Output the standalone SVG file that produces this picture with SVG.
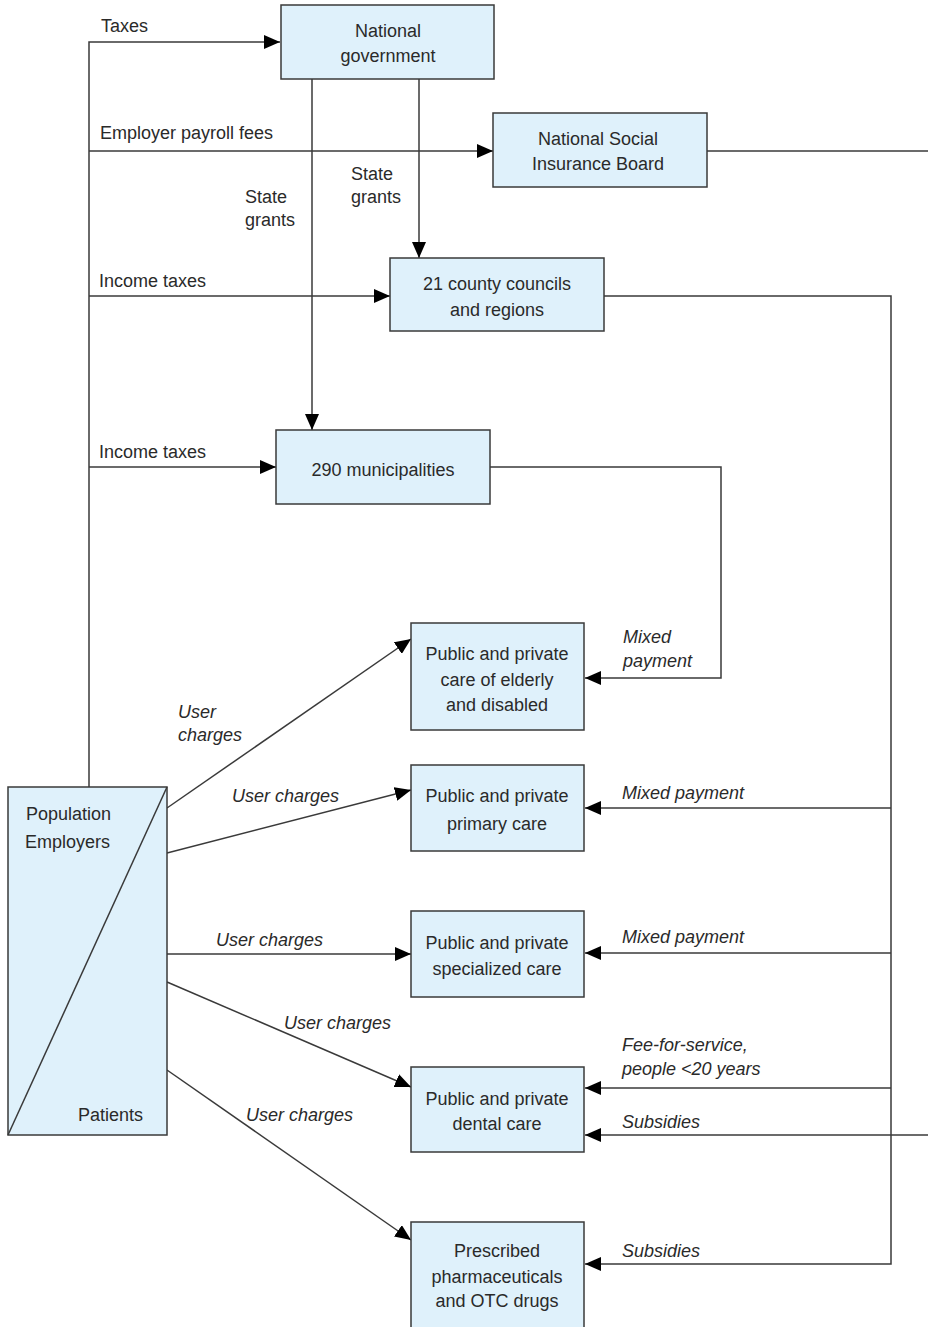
<svg xmlns="http://www.w3.org/2000/svg" width="928" height="1327" viewBox="0 0 928 1327">
<style>
.box{fill:#dff1fb;stroke:#3a3a3a;stroke-width:1.5}
.ln{fill:none;stroke:#3a3a3a;stroke-width:1.5}
.ar{marker-end:url(#ah)}
text{font-family:"Liberation Sans",Arial,sans-serif;font-size:18px;fill:#2a2a2a}
.c{text-anchor:middle}
.i{font-style:italic}
</style>
<defs>
<marker id="ah" markerUnits="userSpaceOnUse" markerWidth="16" markerHeight="14" refX="16" refY="7" orient="auto">
<path d="M0,0 L16,7 L0,14 Z" fill="#000"/>
</marker>
</defs>
<rect width="928" height="1327" fill="#fff"/>
<g id="connectors">
<path class="ln ar" d="M89,787 V42 H280"/>
<path class="ln ar" d="M89,151 H493"/>
<path class="ln ar" d="M89,296 H390"/>
<path class="ln ar" d="M89,467 H276"/>
<path class="ln ar" d="M312,79 V430"/>
<path class="ln ar" d="M419,79 V258"/>
<path class="ln" d="M707,151 H928"/>
<path class="ln ar" d="M604,296 H891 V1264 H585"/>
<path class="ln ar" d="M891,808 H585"/>
<path class="ln ar" d="M891,953 H585"/>
<path class="ln ar" d="M891,1088 H585"/>
<path class="ln ar" d="M928,1135 H585"/>
<path class="ln ar" d="M490,467 H721 V678 H585"/>
<path class="ln ar" d="M167,808 L411,639"/>
<path class="ln ar" d="M167,853 L411,790"/>
<path class="ln ar" d="M167,954 H411"/>
<path class="ln ar" d="M167,982 L411,1087"/>
<path class="ln ar" d="M167,1070 L411,1240"/>
<text x="101" y="32">Taxes</text>
<text x="100" y="139">Employer payroll fees</text>
<text x="245" y="203">State</text>
<text x="245" y="226">grants</text>
<text x="351" y="180">State</text>
<text x="351" y="203">grants</text>
<text x="99" y="287">Income taxes</text>
<text x="99" y="458">Income taxes</text>
<text class="i" x="178" y="718">User</text>
<text class="i" x="178" y="741">charges</text>
<text class="i" x="232" y="802">User charges</text>
<text class="i" x="216" y="946">User charges</text>
<text class="i" x="284" y="1029">User charges</text>
<text class="i" x="246" y="1121">User charges</text>
<text class="i" x="623" y="643">Mixed</text>
<text class="i" x="623" y="667">payment</text>
<text class="i" x="622" y="799">Mixed payment</text>
<text class="i" x="622" y="943">Mixed payment</text>
<text class="i" x="622" y="1051">Fee-for-service,</text>
<text class="i" x="622" y="1075">people &lt;20 years</text>
<text class="i" x="622" y="1128">Subsidies</text>
<text class="i" x="622" y="1257">Subsidies</text>
</g>
<g id="national-government">
<rect class="box" x="281" y="5" width="213" height="74"/>
<text class="c" x="388" y="37">National</text>
<text class="c" x="388" y="62">government</text>
</g>
<g id="nsib">
<rect class="box" x="493" y="113" width="214" height="74"/>
<text class="c" x="598" y="145">National Social</text>
<text class="c" x="598" y="170">Insurance Board</text>
</g>
<g id="county-councils">
<rect class="box" x="390" y="258" width="214" height="73"/>
<text class="c" x="497" y="290">21 county councils</text>
<text class="c" x="497" y="316">and regions</text>
</g>
<g id="municipalities">
<rect class="box" x="276" y="430" width="214" height="74"/>
<text class="c" x="383" y="476">290 municipalities</text>
</g>
<g id="elderly-care">
<rect class="box" x="411" y="623" width="173" height="107"/>
<text class="c" x="497" y="660">Public and private</text>
<text class="c" x="497" y="686">care of elderly</text>
<text class="c" x="497" y="711">and disabled</text>
</g>
<g id="primary-care">
<rect class="box" x="411" y="765" width="173" height="86"/>
<text class="c" x="497" y="802">Public and private</text>
<text class="c" x="497" y="830">primary care</text>
</g>
<g id="specialized-care">
<rect class="box" x="411" y="911" width="173" height="86"/>
<text class="c" x="497" y="949">Public and private</text>
<text class="c" x="497" y="975">specialized care</text>
</g>
<g id="dental-care">
<rect class="box" x="411" y="1067" width="173" height="85"/>
<text class="c" x="497" y="1105">Public and private</text>
<text class="c" x="497" y="1130">dental care</text>
</g>
<g id="pharmaceuticals">
<rect class="box" x="411" y="1222" width="173" height="110"/>
<text class="c" x="497" y="1257">Prescribed</text>
<text class="c" x="497" y="1283">pharmaceuticals</text>
<text class="c" x="497" y="1307">and OTC drugs</text>
</g>
<g id="population">
<rect class="box" x="8" y="787" width="159" height="348"/>
<path class="ln" d="M8,1135 L167,787"/>
<text x="26" y="820">Population</text>
<text x="25" y="848">Employers</text>
<text x="78" y="1121">Patients</text>
</g>
</svg>
